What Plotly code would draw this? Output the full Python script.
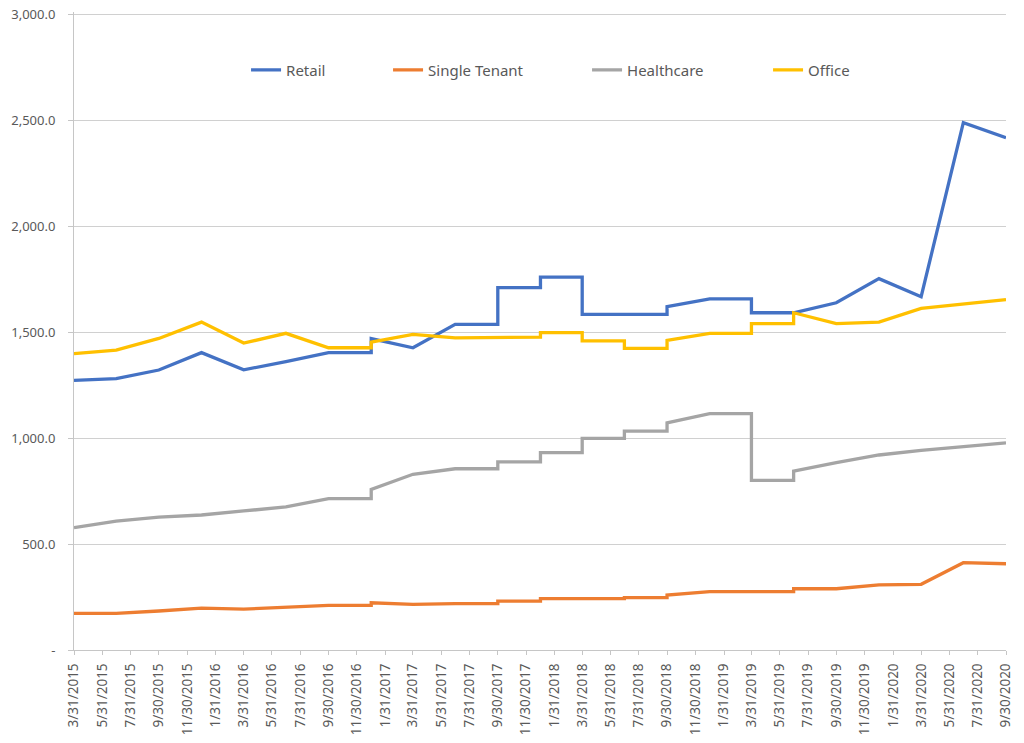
#!/usr/bin/env python3
# -*- coding: utf-8 -*-
"""
NOI by property type, quarterly
"""

import pandas as pd
import plotly.graph_objects as go

# quarter ends, some quarters appear twice (restated value)
dates = ['2015-03-31', '2015-06-30', '2015-09-30', '2015-12-31',
         '2016-03-31', '2016-06-30', '2016-09-30', '2016-12-31', '2016-12-31',
         '2017-03-31', '2017-06-30', '2017-09-30', '2017-09-30', '2017-12-31', '2017-12-31',
         '2018-03-31', '2018-03-31', '2018-06-30', '2018-06-30', '2018-09-30', '2018-09-30',
         '2018-12-31', '2019-03-31', '2019-03-31', '2019-06-30', '2019-06-30',
         '2019-09-30', '2019-12-31', '2020-03-31', '2020-06-30', '2020-09-30']

retail = [1272, 1280, 1321, 1403, 1322, 1360, 1403, 1403, 1469, 1426, 1536, 1536, 1710, 1710, 1759, 1759,
          1583, 1583, 1583, 1583, 1620, 1657, 1657, 1591, 1591, 1591, 1638, 1752, 1667, 2488, 2417]
single_tenant = [173, 173, 184, 198, 193, 201, 211, 211, 223, 215, 219, 219, 231, 231, 242, 242,
                 242, 242, 247, 247, 259, 275, 275, 275, 275, 289, 289, 307, 310, 412, 407]
healthcare = [577, 608, 627, 637, 656, 675, 714, 714, 758, 829, 855, 855, 888, 888, 931, 931,
              998, 998, 1033, 1033, 1072, 1115, 1115, 800, 800, 844, 884, 920, 942, 958, 977]
office = [1398, 1415, 1470, 1547, 1448, 1494, 1426, 1426, 1453, 1489, 1473, 1473, 1476, 1476, 1497, 1497,
          1458, 1458, 1423, 1423, 1461, 1494, 1494, 1540, 1540, 1591, 1540, 1547, 1612, 1631, 1653]

x_ticks = ['3/31/2015', '5/31/2015', '7/31/2015', '9/30/2015', '11/30/2015',
           '1/31/2016', '3/31/2016', '5/31/2016', '7/31/2016', '9/30/2016', '11/30/2016',
           '1/31/2017', '3/31/2017', '5/31/2017', '7/31/2017', '9/30/2017', '11/30/2017',
           '1/31/2018', '3/31/2018', '5/31/2018', '7/31/2018', '9/30/2018', '11/30/2018',
           '1/31/2019', '3/31/2019', '5/31/2019', '7/31/2019', '9/30/2019', '11/30/2019',
           '1/31/2020', '3/31/2020', '5/31/2020', '7/31/2020', '9/30/2020']
y_ticks = [0, 500, 1000, 1500, 2000, 2500, 3000]
y_labels = ['-', '500.0', '1,000.0', '1,500.0', '2,000.0', '2,500.0', '3,000.0']

series = [('Retail', retail, '#4472C4', 97),
          ('Single Tenant', single_tenant, '#ED7D31', 154),
          ('Healthcare', healthcare, '#A5A5A5', 136),
          ('Office', office, '#FFC000', 50)]

font_txt = 'Noto Sans'
grey_txt = '#595959'
grey_line = '#C6C6C6'

df = pd.DataFrame({'Date': pd.to_datetime(dates)})
tick_dates = pd.to_datetime(x_ticks, format='%m/%d/%Y')

fig = go.Figure()
for name, vals, col, lw in series:
    fig.add_trace(go.Scatter(x=df['Date'], y=vals, name=name, mode='lines',
                             line=dict(color=col, width=3.3), legendwidth=lw))

fig.update_layout(
    width=1024, height=743,
    margin=dict(l=74, r=18, t=12, b=93),
    paper_bgcolor='white', plot_bgcolor='white',
    font=dict(family=font_txt, color=grey_txt),
    legend=dict(orientation='h', x=0.1846, y=0.909, xanchor='left', yanchor='middle',
                font=dict(size=15, color=grey_txt), bgcolor='rgba(0,0,0,0)'),
    showlegend=True,
)
fig.update_xaxes(type='date', range=[tick_dates[0], tick_dates[-1]],
                 tickvals=tick_dates, ticktext=x_ticks, tickangle=-90,
                 tickfont=dict(size=13.5, color=grey_txt), automargin=False,
                 showgrid=False, zeroline=False,
                 showline=True, linecolor=grey_line, linewidth=1,
                 ticks='outside', ticklen=4, tickcolor=grey_line, ticklabelstandoff=3)
# a little headroom above 3000 so plotly keeps the top gridline
fig.update_yaxes(range=[0, 3010], tickvals=y_ticks, ticktext=y_labels,
                 tickfont=dict(size=13, color=grey_txt), automargin=False,
                 ticklabeloverflow='allow',
                 showgrid=True, gridcolor='#D0D0D0', gridwidth=1, zeroline=False,
                 showline=True, linecolor=grey_line, linewidth=1,
                 ticks='outside', ticklen=5, tickcolor=grey_line, ticklabelstandoff=10)

# drop the default 8px page margin so the figure fills the window
fig.write_html("out.html", config={'displayModeBar': False},
               post_script="document.body.style.margin='0px';")
